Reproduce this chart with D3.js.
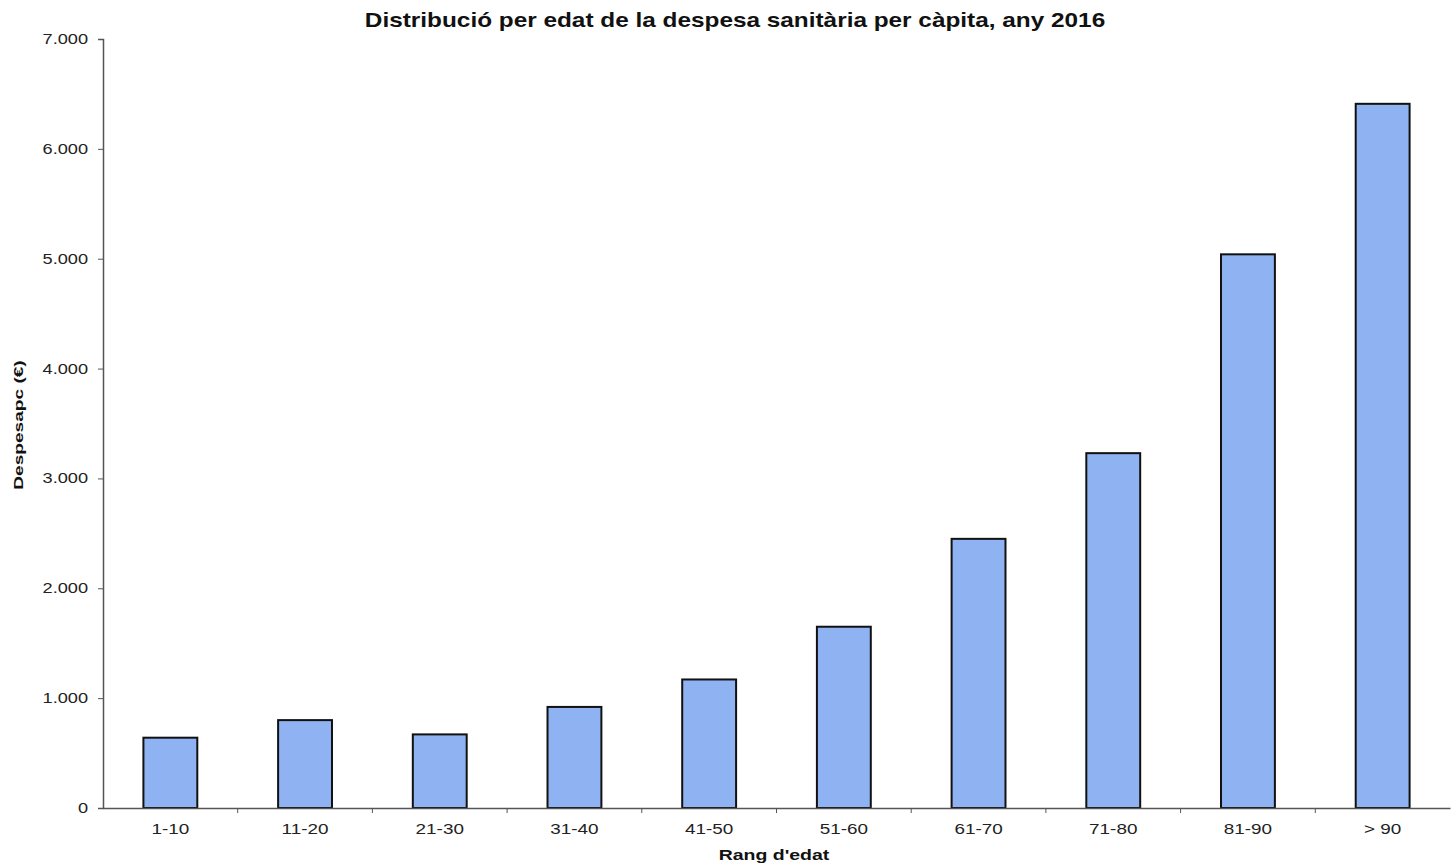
<!DOCTYPE html>
<html><head><meta charset="utf-8">
<script src="https://cdn.jsdelivr.net/npm/d3@7"></script>
<style>body{margin:0;background:#fff}svg{display:block}text{font-family:"Liberation Sans",Arial,sans-serif}</style>
</head><body><svg id="c" width="1455" height="867"></svg>
<script>
const categories = ["1-10","11-20","21-30","31-40","41-50","51-60","61-70","71-80","81-90","> 90"];
const values = [640, 800, 670, 920, 1170, 1650, 2450, 3230, 5040, 6410];
const yTicks = [0,1000,2000,3000,4000,5000,6000,7000];
const yTickLabels = ["0","1.000","2.000","3.000","4.000","5.000","6.000","7.000"];
const title = "Distribució per edat de la despesa sanitària per càpita, any 2016";
const xTitle = "Rang d'edat";
const yTitle = "Despesapc (€)";

const svg = d3.select("#c");
const m = {l:103, r:1450, t:39, b:808};
const x = d3.scaleBand().domain(categories).range([m.l, m.r]).paddingInner(0.6).paddingOuter(0.3);
const y = d3.scaleLinear().domain([0,7000]).range([m.b, m.t]);

svg.append("text").attr("transform","translate(735,27) scale(1.16,1)").attr("text-anchor","middle")
  .attr("font-size",21).attr("font-weight","bold").attr("fill","#111").text(title);

// bars
svg.selectAll("rect.bar").data(values).join("rect").attr("class","bar")
  .attr("x",(d,i)=>x(categories[i])).attr("width",x.bandwidth())
  .attr("y",d=>y(d)).attr("height",d=>y(0)-y(d))
  .attr("fill","#8fb2f2").attr("stroke","#111").attr("stroke-width",2);

// y axis
const ya = svg.append("g").attr("transform",`translate(${m.l},0)`)
  .call(d3.axisLeft(y).tickValues(yTicks).tickFormat((d,i)=>yTickLabels[i]).tickSize(5));
ya.select(".domain").attr("stroke","#555").attr("stroke-width",1.5);
ya.selectAll(".tick line").attr("stroke","#555");
ya.selectAll(".tick text").attr("font-size",14).attr("fill","#222")
  .attr("font-family","Liberation Sans, Arial, sans-serif")
  .attr("x",-11.5).attr("transform","scale(1.3,1)");

// x axis
const xa = svg.append("g").attr("transform",`translate(0,${m.b})`)
  .call(d3.axisBottom(x).tickSize(0).tickPadding(16).tickSizeOuter(0));
xa.select(".domain").attr("stroke","#555").attr("stroke-width",1.5);
xa.selectAll(".tick text").attr("font-size",14).attr("fill","#222")
  .attr("font-family","Liberation Sans, Arial, sans-serif").attr("transform","scale(1.35,1)");
const step = x.step();
const bounds = d3.range(1, categories.length).map(i => m.l + i*step);
svg.selectAll("line.xt").data(bounds).join("line").attr("class","xt")
  .attr("x1",d=>d).attr("x2",d=>d).attr("y1",m.b).attr("y2",m.b+5).attr("stroke","#555");

svg.append("text").attr("transform","translate(774,860) scale(1.3,1)").attr("text-anchor","middle")
  .attr("font-size",15).attr("font-weight","bold").attr("fill","#111").text(xTitle);
svg.append("text").attr("transform","translate(23,425) rotate(-90) scale(1.47,1)").attr("text-anchor","middle")
  .attr("font-size",13).attr("font-weight","bold").attr("fill","#111").text(yTitle);
</script></body></html>
